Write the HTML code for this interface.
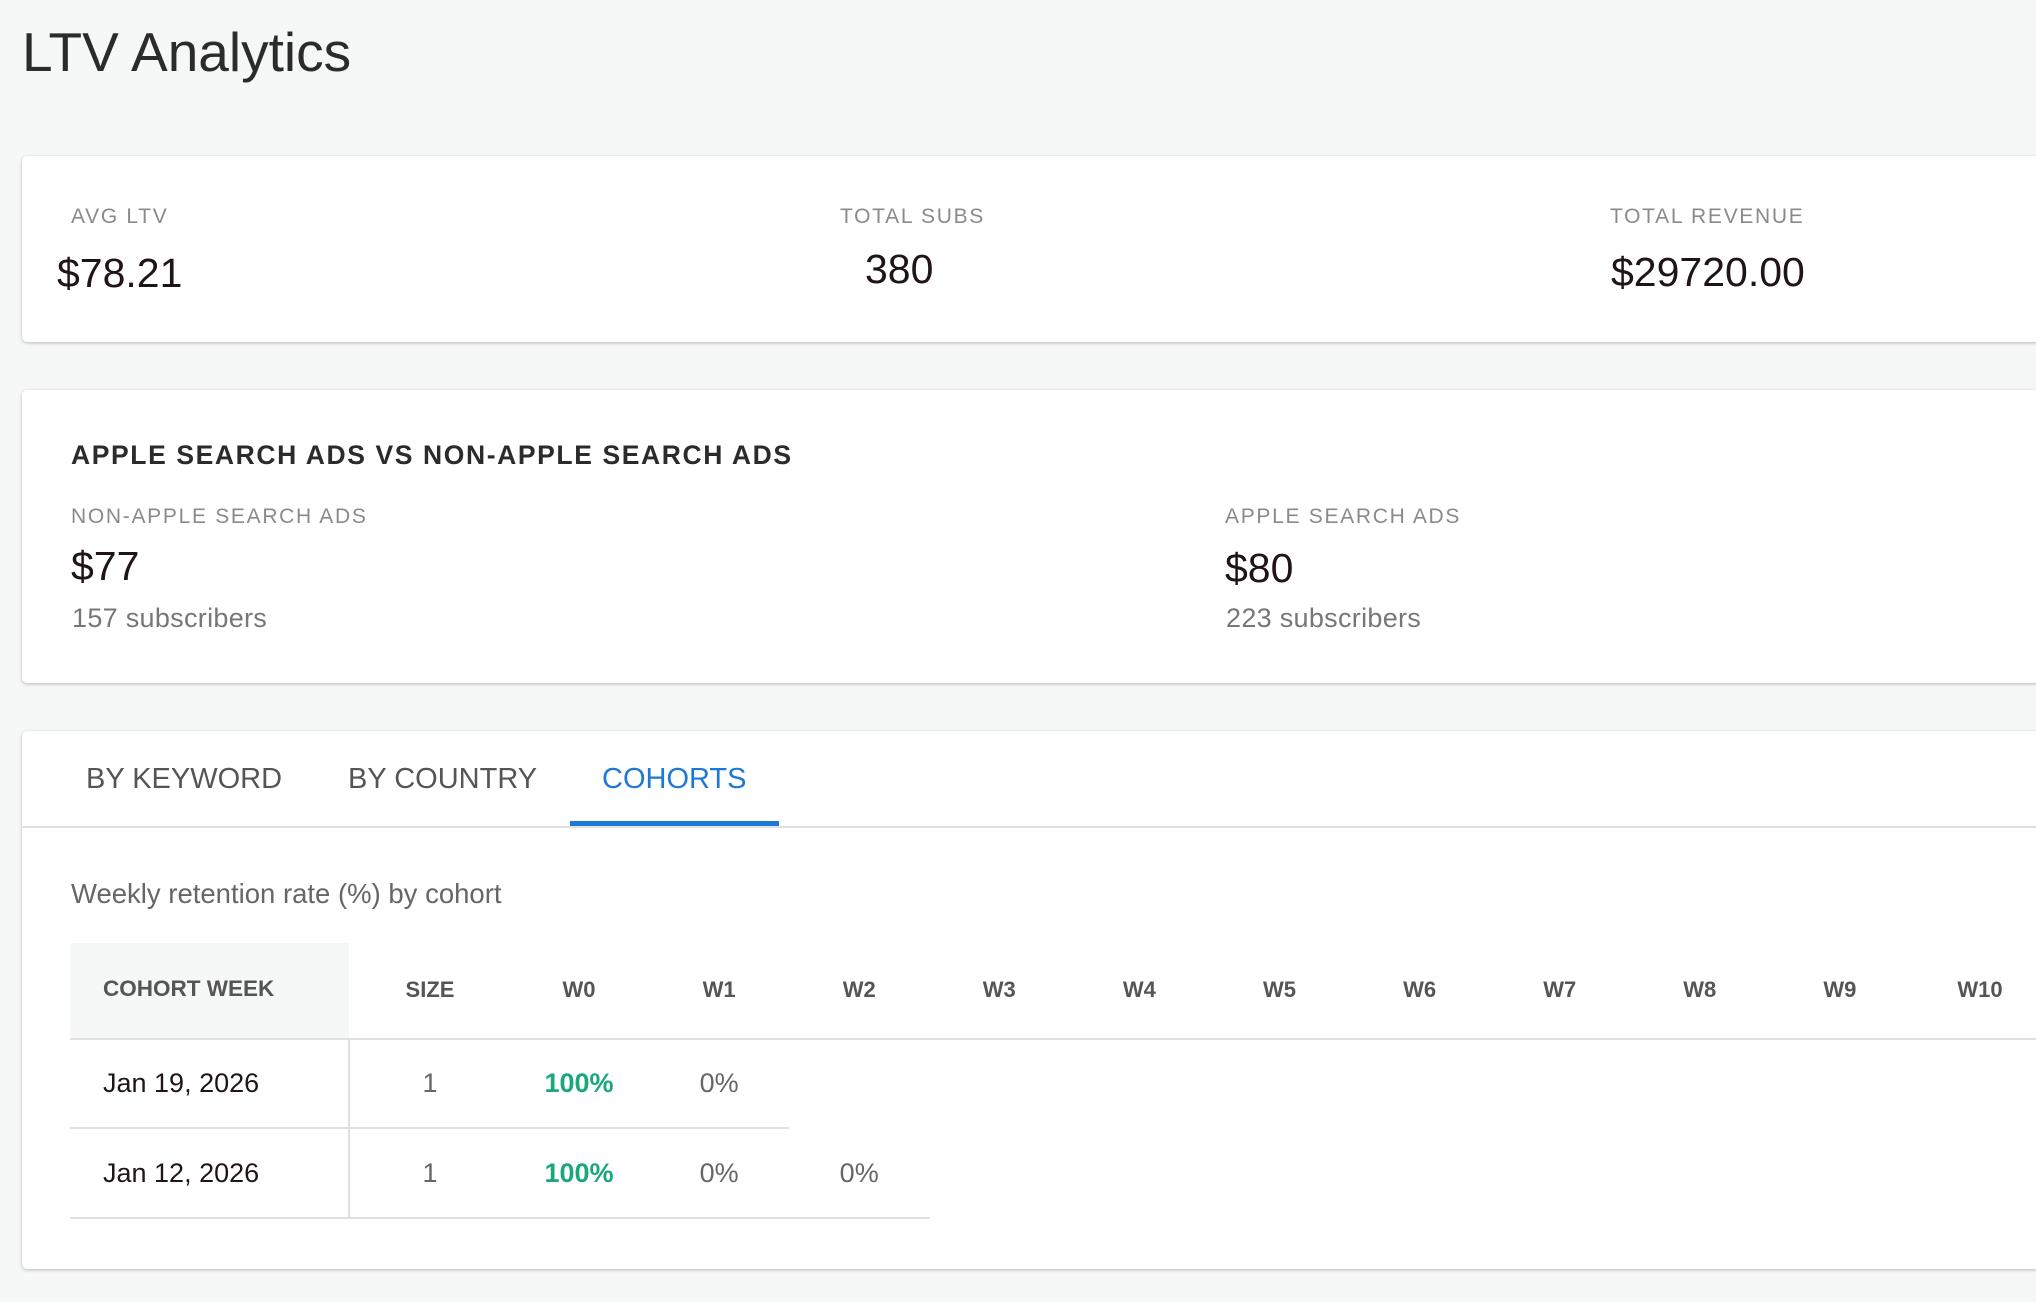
<!DOCTYPE html>
<html><head><meta charset="utf-8"><style>
body{margin:0;width:2036px;height:1302px;background:#f6f7f7;font-family:"Liberation Sans",sans-serif;position:relative;overflow:hidden}
.a{position:absolute;white-space:nowrap}
.card{position:absolute;left:22px;width:2060px;background:#fff;border-radius:5px;box-shadow:0 1px 3px rgba(0,0,0,.25)}
.lbl{font-size:21px;letter-spacing:1.7px;color:#8a8a8a}
.val{font-size:41px;color:#1f1416}
.sub{font-size:27px;color:#777;letter-spacing:0.3px}
.th{font-size:22px;font-weight:bold;color:#555;transform:translateX(-50%)}
.td{font-size:27px;color:#666;transform:translateX(-50%)}
.g{color:#1aa87a;font-weight:bold}
.line{position:absolute;background:#e0e0e0}
</style></head><body>
<div class="a" style="left:22px;top:20px;font-size:55px;color:#2b2b2b">LTV Analytics</div>

<div class="card" style="top:156px;height:186px"></div>
<div class="a lbl" style="left:71px;top:205px">AVG LTV</div>
<div class="a val" style="left:57px;top:250px">$78.21</div>
<div class="a lbl" style="left:840px;top:205px">TOTAL SUBS</div>
<div class="a val" style="left:865px;top:246px">380</div>
<div class="a lbl" style="left:1610px;top:205px">TOTAL REVENUE</div>
<div class="a val" style="left:1611px;top:249px">$29720.00</div>

<div class="card" style="top:390px;height:293px"></div>
<div class="a" style="left:71px;top:440px;font-size:26.5px;font-weight:bold;letter-spacing:1.6px;color:#2b2b2b">APPLE SEARCH ADS VS NON-APPLE SEARCH ADS</div>
<div class="a lbl" style="left:71px;top:505px">NON-APPLE SEARCH ADS</div>
<div class="a val" style="left:71px;top:543px">$77</div>
<div class="a sub" style="left:72px;top:603px">157 subscribers</div>
<div class="a lbl" style="left:1225px;top:505px">APPLE SEARCH ADS</div>
<div class="a val" style="left:1225px;top:545px">$80</div>
<div class="a sub" style="left:1226px;top:603px">223 subscribers</div>

<div class="card" style="top:731px;height:538px"></div>
<div class="a" style="left:86px;top:763px;font-size:29px;color:#555">BY KEYWORD</div>
<div class="a" style="left:348px;top:763px;font-size:29px;color:#555">BY COUNTRY</div>
<div class="a" style="left:602px;top:763px;font-size:29px;color:#1e78d6">COHORTS</div>
<div class="line" style="left:22px;top:826px;width:2014px;height:2px"></div>
<div class="a" style="left:570px;top:821px;width:209px;height:5px;background:#1e78d6"></div>

<div class="a" style="left:71px;top:878px;font-size:27.5px;color:#666">Weekly retention rate (%) by cohort</div>

<div class="a" style="left:70px;top:943px;width:279px;height:96px;background:#f6f7f7"></div>
<div class="a" style="left:103px;top:976px;font-size:22.5px;font-weight:bold;color:#555">COHORT WEEK</div>
<div class="line" style="left:70px;top:1038px;width:1966px;height:2px"></div>
<div class="line" style="left:348px;top:1040px;width:2px;height:178px"></div>
<div class="line" style="left:70px;top:1127px;width:719px;height:2px"></div>
<div class="line" style="left:70px;top:1217px;width:860px;height:2px"></div>

<div id="tbl"></div>
<script>
const headers=["SIZE","W0","W1","W2","W3","W4","W5","W6","W7","W8","W9","W10"];
const cohorts=["Jan 19, 2026","Jan 12, 2026"];
const sizes=[1,1];
const retention=[[100,0],[100,0,0]];
const root=document.getElementById('tbl');
const colX=i=>i===0?430:579+(i-1)*140.1;
const rowY=r=>1068+r*90;
function mk(cls,txt,l,t){const d=document.createElement('div');d.className='a '+cls;d.textContent=txt;d.style.left=l+'px';d.style.top=t+'px';root.appendChild(d);return d;}
headers.forEach((h,i)=>{const d=mk('th',h,colX(i),977);

});
cohorts.forEach((c,r)=>{
const a=mk('td',c,103,rowY(r));a.style.transform='none';a.style.color='#1f1416';


const s=mk('td',String(sizes[r]),colX(0),rowY(r));


retention[r].forEach((v,k)=>{const d=mk('td'+(v>=100?' g':''),v+'%',colX(k+1),rowY(r));

});
});
</script>
</body></html>
